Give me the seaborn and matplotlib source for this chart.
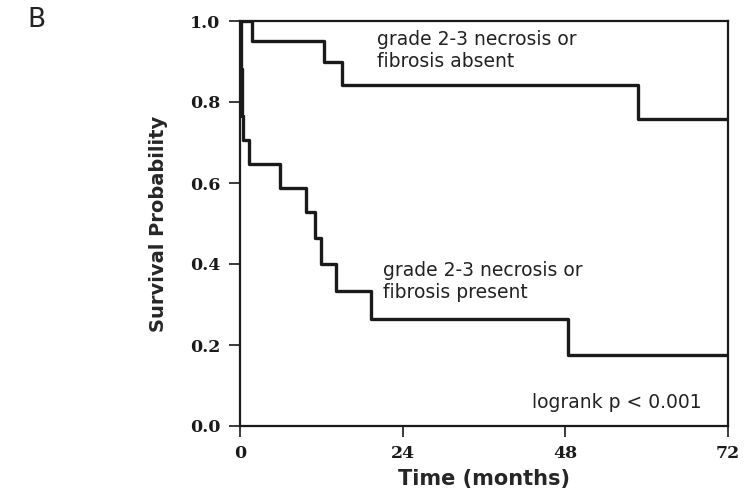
import numpy as np
import pandas as pd
import seaborn as sns
import matplotlib
matplotlib.use("Agg")
import matplotlib.pyplot as plt

# Kaplan-Meier step data (months, survival prob)
absent_time = [0, 1.8, 12.4, 15.0, 58.7, 72]
absent_surv = [1.0, 0.95, 0.90, 0.842, 0.757, 0.757]

present_time = [0, 0.15, 0.3, 0.5, 1.3, 5.9, 9.8, 11.0, 12.0, 14.1, 19.3, 48.4, 72]
present_surv = [1.0, 0.882, 0.765, 0.706, 0.647, 0.588, 0.529, 0.465, 0.40, 0.333, 0.265, 0.176, 0.176]

group_labels = ["grade 2-3 necrosis or\nfibrosis absent", "grade 2-3 necrosis or\nfibrosis present"]
x_ticks = [0, 24, 48, 72]
y_ticks = [0.0, 0.2, 0.4, 0.6, 0.8, 1.0]

df = pd.concat([
    pd.DataFrame({"time": absent_time, "surv": absent_surv, "group": "absent"}),
    pd.DataFrame({"time": present_time, "surv": present_surv, "group": "present"}),
])

sns.set_style("ticks")
plt.rcParams["font.family"] = ["DejaVu Sans"]

fig = plt.figure(figsize=(7.44, 4.91), dpi=100)
ax = fig.add_axes([240/744, 1 - 426/491, 488/744, 405/491])

sns.lineplot(data=df, x="time", y="surv", hue="group", palette=["#1a1a1a", "#1a1a1a"],
             drawstyle="steps-post", estimator=None, sort=False, legend=False,
             linewidth=2.4, ax=ax)

ax.set_xlim(0, 72)
ax.set_ylim(0, 1.0)
ax.set_xticks(x_ticks)
ax.set_yticks(y_ticks)
ax.set_xticklabels([str(t) for t in x_ticks])
ax.set_yticklabels([f"{t:.1f}" for t in y_ticks])
for s in ax.spines.values():
    s.set_linewidth(1.6)
    s.set_color("#1a1a1a")
ax.tick_params(length=8, width=1.2, pad=6, colors="#1a1a1a")
for lab in ax.get_xticklabels() + ax.get_yticklabels():
    lab.set_fontfamily("DejaVu Serif")
    lab.set_fontweight("bold")
    lab.set_fontsize(12.5)

ax.set_xlabel("Time (months)", fontsize=15, fontweight="bold", labelpad=5)
ax.set_ylabel("Survival Probability", fontsize=14, fontweight="bold", labelpad=16)

ax.text(20.2, 0.926, group_labels[0], fontsize=13.5, va="center", ha="left", color="#222222")
ax.text(21.1, 0.358, group_labels[1], fontsize=13.5, va="center", ha="left", color="#222222")
ax.text(43.1, 0.059, "logrank p < 0.001", fontsize=13.5, va="center", ha="left", color="#222222")

fig.text(0.049, 0.959, "B", fontsize=19, va="center", ha="center", color="#222222")

fig.savefig("out.png", dpi=100)
